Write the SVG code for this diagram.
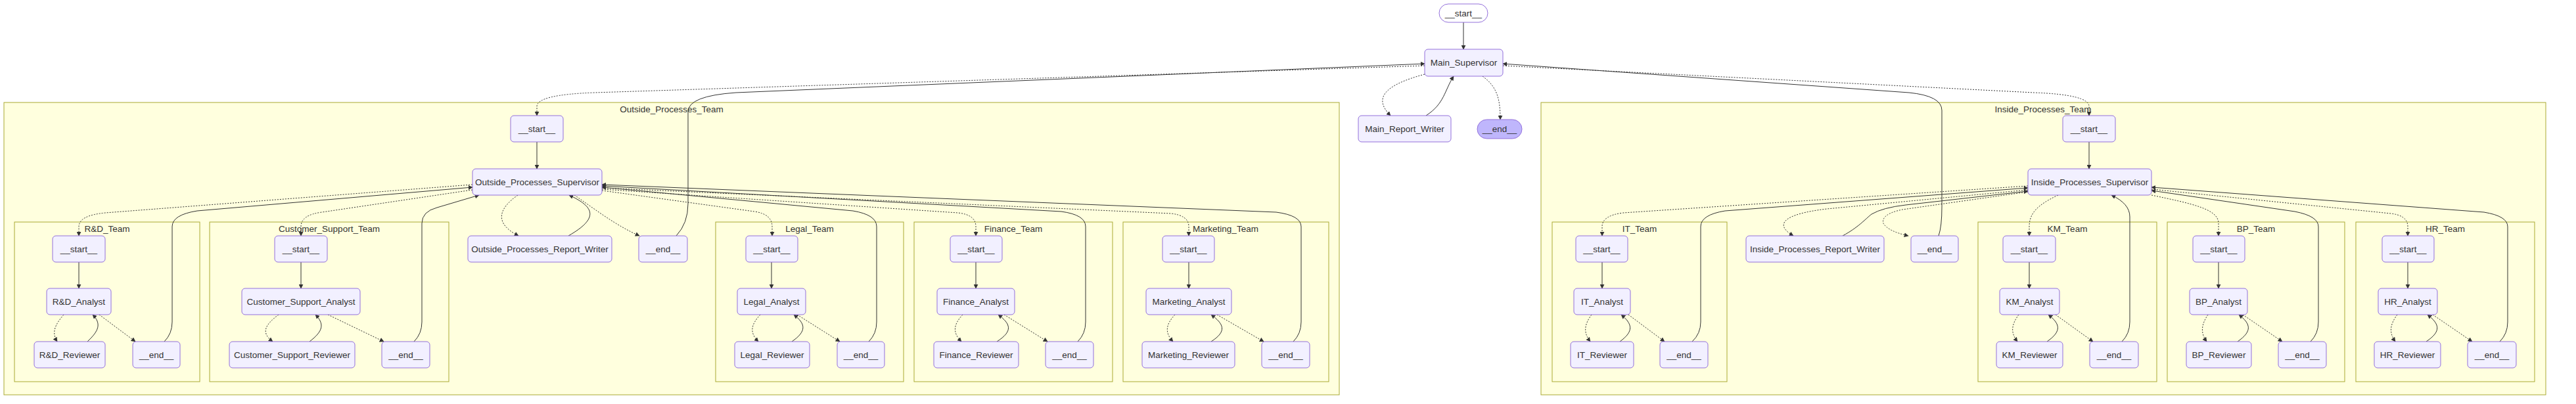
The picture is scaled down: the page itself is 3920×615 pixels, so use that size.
<svg xmlns="http://www.w3.org/2000/svg" width="3920" height="615" viewBox="0 0 3920 615">
<style>
.node rect{fill:#f2f0ff;stroke:#9370db;stroke-width:1}
.cluster rect{fill:#ffffde;stroke:#aaaa33;stroke-width:1}
text{font-family:"Liberation Sans",Arial,sans-serif;font-size:13.5px;fill:#333;text-anchor:middle}
.e{fill:none;stroke:#333;stroke-width:1}
.d{stroke-dasharray:2 2}
</style>
<defs>
<marker id="ah" viewBox="0 0 10 10" refX="9" refY="5" markerWidth="7" markerHeight="7" markerUnits="userSpaceOnUse" orient="auto"><path d="M0,0 L10,5 L0,10 z" fill="#333"/></marker>
</defs>
<rect width="3920" height="615" fill="#fff"/>
<g id="clusters">
<g id="Outside_Processes_Team" class="cluster"><rect x="6" y="156" width="2032" height="445"/><text x="1022" y="171">Outside_Processes_Team</text></g>
<g id="RD_Team" class="cluster"><rect x="22" y="338" width="282" height="243"/><text x="163" y="353">R&amp;D_Team</text></g>
<g id="Customer_Support_Team" class="cluster"><rect x="319" y="338" width="364" height="243"/><text x="501" y="353">Customer_Support_Team</text></g>
<g id="Legal_Team" class="cluster"><rect x="1089" y="338" width="286" height="243"/><text x="1232" y="353">Legal_Team</text></g>
<g id="Finance_Team" class="cluster"><rect x="1391" y="338" width="302" height="243"/><text x="1542" y="353">Finance_Team</text></g>
<g id="Marketing_Team" class="cluster"><rect x="1709" y="338" width="313" height="243"/><text x="1865" y="353">Marketing_Team</text></g>
<g id="Inside_Processes_Team" class="cluster"><rect x="2345" y="156" width="1529" height="445"/><text x="3109" y="171">Inside_Processes_Team</text></g>
<g id="IT_Team" class="cluster"><rect x="2362" y="338" width="266" height="243"/><text x="2495" y="353">IT_Team</text></g>
<g id="KM_Team" class="cluster"><rect x="3010" y="338" width="272" height="243"/><text x="3146" y="353">KM_Team</text></g>
<g id="BP_Team" class="cluster"><rect x="3298" y="338" width="270" height="243"/><text x="3433" y="353">BP_Team</text></g>
<g id="HR_Team" class="cluster"><rect x="3585" y="338" width="272" height="243"/><text x="3721" y="353">HR_Team</text></g>
</g>
<g id="connectors">
<path class="e" d="M2227,34 L2227,75" marker-end="url(#ah)"/>
<path class="e d" d="M2168,113 C2105,130 2090,150 2116,176" marker-end="url(#ah)"/>
<path class="e" d="M2170,176 C2198,158 2198,138 2212,116" marker-end="url(#ah)"/>
<path class="e d" d="M2256,116 C2278,132 2283,150 2283,182" marker-end="url(#ah)"/>
<path class="e d" d="M2168,100 L905,141 Q817,144 817,162 L817,176" marker-end="url(#ah)"/>
<path class="e" d="M1029,359 Q1047,340 1047,310 L1047,170 Q1047,146 1120,141 L2168,97" marker-end="url(#ah)"/>
<path class="e d" d="M2287,100 L3095,141 Q3179,144 3179,162 L3179,176" marker-end="url(#ah)"/>
<path class="e" d="M2950,359 Q2955,345 2955,315 L2955,168 Q2955,146 2905,141 L2287,97" marker-end="url(#ah)"/>
<path class="e" d="M817,216 L817,257" marker-end="url(#ah)"/>
<path class="e d" d="M719,281 L160,324 Q120,328 120,345 L120,359" marker-end="url(#ah)"/>
<path class="e" d="M250,520 Q262,508 262,490 L262,345 Q262,327 300,321 L719,285" marker-end="url(#ah)"/>
<path class="e d" d="M719,289 L490,323 Q458,327 458,345 L458,359" marker-end="url(#ah)"/>
<path class="e" d="M630,520 Q642,508 642,490 L642,340 Q642,322 665,316 L729,297" marker-end="url(#ah)"/>
<path class="e d" d="M788,297 C758,318 752,340 789,359" marker-end="url(#ah)"/>
<path class="e" d="M865,359 C912,332 905,315 866,297" marker-end="url(#ah)"/>
<path class="e d" d="M874,297 C905,318 935,342 973,359" marker-end="url(#ah)"/>
<path class="e d" d="M916,290 L1148,322 Q1175,326 1175,345 L1175,359" marker-end="url(#ah)"/>
<path class="e" d="M1322,520 Q1334,508 1334,490 L1334,345 Q1334,327 1298,321 L916,285" marker-end="url(#ah)"/>
<path class="e d" d="M916,288 L1458,324 Q1485,327 1485,345 L1485,359" marker-end="url(#ah)"/>
<path class="e" d="M1640,520 Q1652,508 1652,490 L1652,345 Q1652,327 1615,322 L916,283" marker-end="url(#ah)"/>
<path class="e d" d="M916,286 L1782,325 Q1809,328 1809,345 L1809,359" marker-end="url(#ah)"/>
<path class="e" d="M1968,520 Q1980,508 1980,490 L1980,345 Q1980,328 1942,323 L916,281" marker-end="url(#ah)"/>
<path class="e" d="M120,399 L120,439" marker-end="url(#ah)"/>
<path class="e d" d="M97,479 C84,494 78,506 87,520" marker-end="url(#ah)"/>
<path class="e" d="M133,520 C150,504 155,493 141,479" marker-end="url(#ah)"/>
<path class="e d" d="M151,479 L206,520" marker-end="url(#ah)"/>
<path class="e" d="M458,399 L458,439" marker-end="url(#ah)"/>
<path class="e d" d="M424,479 C404,494 396,506 415,520" marker-end="url(#ah)"/>
<path class="e" d="M471,520 C492,504 494,493 480,479" marker-end="url(#ah)"/>
<path class="e d" d="M499,479 L584,520" marker-end="url(#ah)"/>
<path class="e" d="M1174,399 L1174,439" marker-end="url(#ah)"/>
<path class="e d" d="M1157,479 C1143,494 1140,506 1154,520" marker-end="url(#ah)"/>
<path class="e" d="M1205,520 C1228,504 1226,493 1208,479" marker-end="url(#ah)"/>
<path class="e d" d="M1213,479 L1278,520" marker-end="url(#ah)"/>
<path class="e" d="M1485,399 L1485,439" marker-end="url(#ah)"/>
<path class="e d" d="M1465,479 C1451,494 1449,506 1463,520" marker-end="url(#ah)"/>
<path class="e" d="M1517,520 C1542,504 1538,493 1519,479" marker-end="url(#ah)"/>
<path class="e d" d="M1528,479 L1594,520" marker-end="url(#ah)"/>
<path class="e" d="M1809,399 L1809,439" marker-end="url(#ah)"/>
<path class="e d" d="M1788,479 C1774,494 1772,506 1785,520" marker-end="url(#ah)"/>
<path class="e" d="M1843,520 C1868,504 1862,493 1843,479" marker-end="url(#ah)"/>
<path class="e d" d="M1852,479 L1923,520" marker-end="url(#ah)"/>
<path class="e" d="M3179,216 L3179,257" marker-end="url(#ah)"/>
<path class="e d" d="M3086,283 L2470,324 Q2438,328 2438,345 L2438,359" marker-end="url(#ah)"/>
<path class="e" d="M2575,520 Q2588,508 2588,490 L2588,345 Q2588,327 2625,321 L3086,286" marker-end="url(#ah)"/>
<path class="e d" d="M3086,289 L2780,318 C2712,326 2700,342 2729,359" marker-end="url(#ah)"/>
<path class="e" d="M2804,359 C2828,346 2838,334 2848,326 Q2865,316 2900,312 L3086,291" marker-end="url(#ah)"/>
<path class="e d" d="M3086,292 L2895,319 Q2862,326 2866,340 Q2873,352 2904,359" marker-end="url(#ah)"/>
<path class="e d" d="M3132,297 C3100,312 3088,325 3088,345 L3088,359" marker-end="url(#ah)"/>
<path class="e" d="M3229,520 Q3241,508 3241,490 L3241,330 Q3241,310 3213,297" marker-end="url(#ah)"/>
<path class="e d" d="M3274,297 C3335,310 3376,318 3376,340 L3376,359" marker-end="url(#ah)"/>
<path class="e" d="M3516,520 Q3528,508 3528,490 L3528,345 Q3528,329 3492,322 L3274,290" marker-end="url(#ah)"/>
<path class="e d" d="M3274,288 L3638,325 Q3664,328 3664,345 L3664,359" marker-end="url(#ah)"/>
<path class="e" d="M3804,520 Q3816,508 3816,490 L3816,345 Q3816,329 3780,323 L3274,285" marker-end="url(#ah)"/>
<path class="e" d="M2438,399 L2438,439" marker-end="url(#ah)"/>
<path class="e d" d="M2422,479 C2411,494 2409,506 2420,520" marker-end="url(#ah)"/>
<path class="e" d="M2465,520 C2487,504 2484,493 2467,479" marker-end="url(#ah)"/>
<path class="e d" d="M2478,479 L2533,520" marker-end="url(#ah)"/>
<path class="e" d="M3088,399 L3088,439" marker-end="url(#ah)"/>
<path class="e d" d="M3072,479 C3061,494 3059,506 3070,520" marker-end="url(#ah)"/>
<path class="e" d="M3115,520 C3138,504 3135,493 3117,479" marker-end="url(#ah)"/>
<path class="e d" d="M3128,479 L3185,520" marker-end="url(#ah)"/>
<path class="e" d="M3376,399 L3376,439" marker-end="url(#ah)"/>
<path class="e d" d="M3360,479 C3350,494 3348,506 3358,520" marker-end="url(#ah)"/>
<path class="e" d="M3405,520 C3428,504 3425,493 3407,479" marker-end="url(#ah)"/>
<path class="e d" d="M3413,479 L3473,520" marker-end="url(#ah)"/>
<path class="e" d="M3664,399 L3664,439" marker-end="url(#ah)"/>
<path class="e d" d="M3648,479 C3637,494 3635,506 3645,520" marker-end="url(#ah)"/>
<path class="e" d="M3692,520 C3716,504 3712,493 3694,479" marker-end="url(#ah)"/>
<path class="e d" d="M3702,479 L3762,520" marker-end="url(#ah)"/>
</g>
<g id="main_start" class="node"><rect x="2190" y="6" width="74" height="28" rx="14" style="fill:#fff"/><text x="2227" y="24.5">__start__</text></g>
<g id="main_supervisor" class="node"><rect x="2168" y="75" width="119" height="41" rx="5"/><text x="2227.5" y="100">Main_Supervisor</text></g>
<g id="main_report_writer" class="node"><rect x="2067" y="176" width="141" height="40" rx="5"/><text x="2137.5" y="200.5">Main_Report_Writer</text></g>
<g id="main_end" class="node"><rect x="2248" y="182" width="68" height="29" rx="14.5" style="fill:#bfb6fc"/><text x="2282" y="201">__end__</text></g>
<g id="op_start" class="node"><rect x="777" y="176" width="80" height="40" rx="5"/><text x="817" y="200.5">__start__</text></g>
<g id="op_supervisor" class="node"><rect x="719" y="257" width="197" height="40" rx="5"/><text x="817.5" y="281.5">Outside_Processes_Supervisor</text></g>
<g id="op_report_writer" class="node"><rect x="712" y="359" width="219" height="40" rx="5"/><text x="821.5" y="383.5">Outside_Processes_Report_Writer</text></g>
<g id="op_end" class="node"><rect x="972" y="359" width="74" height="40" rx="5"/><text x="1009" y="383.5">__end__</text></g>
<g id="rd_start" class="node"><rect x="80" y="359" width="80" height="40" rx="5"/><text x="120" y="383.5">__start__</text></g>
<g id="rd_analyst" class="node"><rect x="71" y="439" width="98" height="40" rx="5"/><text x="120" y="463.5">R&amp;D_Analyst</text></g>
<g id="rd_reviewer" class="node"><rect x="52" y="520" width="108" height="40" rx="5"/><text x="106" y="544.5">R&amp;D_Reviewer</text></g>
<g id="rd_end" class="node"><rect x="202" y="520" width="72" height="40" rx="5"/><text x="238" y="544.5">__end__</text></g>
<g id="cs_start" class="node"><rect x="418" y="359" width="80" height="40" rx="5"/><text x="458" y="383.5">__start__</text></g>
<g id="cs_analyst" class="node"><rect x="368" y="439" width="180" height="40" rx="5"/><text x="458" y="463.5">Customer_Support_Analyst</text></g>
<g id="cs_reviewer" class="node"><rect x="349" y="520" width="191" height="40" rx="5"/><text x="444.5" y="544.5">Customer_Support_Reviewer</text></g>
<g id="cs_end" class="node"><rect x="581" y="520" width="73" height="40" rx="5"/><text x="617.5" y="544.5">__end__</text></g>
<g id="legal_start" class="node"><rect x="1135" y="359" width="79" height="40" rx="5"/><text x="1174.5" y="383.5">__start__</text></g>
<g id="legal_analyst" class="node"><rect x="1122" y="439" width="104" height="40" rx="5"/><text x="1174" y="463.5">Legal_Analyst</text></g>
<g id="legal_reviewer" class="node"><rect x="1118" y="520" width="114" height="40" rx="5"/><text x="1175" y="544.5">Legal_Reviewer</text></g>
<g id="legal_end" class="node"><rect x="1274" y="520" width="72" height="40" rx="5"/><text x="1310" y="544.5">__end__</text></g>
<g id="finance_start" class="node"><rect x="1446" y="359" width="79" height="40" rx="5"/><text x="1485.5" y="383.5">__start__</text></g>
<g id="finance_analyst" class="node"><rect x="1426" y="439" width="118" height="40" rx="5"/><text x="1485" y="463.5">Finance_Analyst</text></g>
<g id="finance_reviewer" class="node"><rect x="1421" y="520" width="129" height="40" rx="5"/><text x="1485.5" y="544.5">Finance_Reviewer</text></g>
<g id="finance_end" class="node"><rect x="1591" y="520" width="73" height="40" rx="5"/><text x="1627.5" y="544.5">__end__</text></g>
<g id="marketing_start" class="node"><rect x="1769" y="359" width="79" height="40" rx="5"/><text x="1808.5" y="383.5">__start__</text></g>
<g id="marketing_analyst" class="node"><rect x="1744" y="439" width="130" height="40" rx="5"/><text x="1809" y="463.5">Marketing_Analyst</text></g>
<g id="marketing_reviewer" class="node"><rect x="1738" y="520" width="141" height="40" rx="5"/><text x="1808.5" y="544.5">Marketing_Reviewer</text></g>
<g id="marketing_end" class="node"><rect x="1920" y="520" width="73" height="40" rx="5"/><text x="1956.5" y="544.5">__end__</text></g>
<g id="ip_start" class="node"><rect x="3139" y="176" width="80" height="40" rx="5"/><text x="3179" y="200.5">__start__</text></g>
<g id="ip_supervisor" class="node"><rect x="3086" y="257" width="188" height="40" rx="5"/><text x="3180" y="281.5">Inside_Processes_Supervisor</text></g>
<g id="ip_report_writer" class="node"><rect x="2657" y="359" width="210" height="40" rx="5"/><text x="2762" y="383.5">Inside_Processes_Report_Writer</text></g>
<g id="ip_end" class="node"><rect x="2908" y="359" width="72" height="40" rx="5"/><text x="2944" y="383.5">__end__</text></g>
<g id="it_start" class="node"><rect x="2398" y="359" width="79" height="40" rx="5"/><text x="2437.5" y="383.5">__start__</text></g>
<g id="it_analyst" class="node"><rect x="2395" y="439" width="86" height="40" rx="5"/><text x="2438" y="463.5">IT_Analyst</text></g>
<g id="it_reviewer" class="node"><rect x="2390" y="520" width="96" height="40" rx="5"/><text x="2438" y="544.5">IT_Reviewer</text></g>
<g id="it_end" class="node"><rect x="2526" y="520" width="73" height="40" rx="5"/><text x="2562.5" y="544.5">__end__</text></g>
<g id="km_start" class="node"><rect x="3048" y="359" width="80" height="40" rx="5"/><text x="3088" y="383.5">__start__</text></g>
<g id="km_analyst" class="node"><rect x="3043" y="439" width="91" height="40" rx="5"/><text x="3088.5" y="463.5">KM_Analyst</text></g>
<g id="km_reviewer" class="node"><rect x="3038" y="520" width="101" height="40" rx="5"/><text x="3088.5" y="544.5">KM_Reviewer</text></g>
<g id="km_end" class="node"><rect x="3180" y="520" width="74" height="40" rx="5"/><text x="3217" y="544.5">__end__</text></g>
<g id="bp_start" class="node"><rect x="3337" y="359" width="79" height="40" rx="5"/><text x="3376.5" y="383.5">__start__</text></g>
<g id="bp_analyst" class="node"><rect x="3332" y="439" width="88" height="40" rx="5"/><text x="3376" y="463.5">BP_Analyst</text></g>
<g id="bp_reviewer" class="node"><rect x="3327" y="520" width="99" height="40" rx="5"/><text x="3376.5" y="544.5">BP_Reviewer</text></g>
<g id="bp_end" class="node"><rect x="3467" y="520" width="73" height="40" rx="5"/><text x="3503.5" y="544.5">__end__</text></g>
<g id="hr_start" class="node"><rect x="3625" y="359" width="79" height="40" rx="5"/><text x="3664.5" y="383.5">__start__</text></g>
<g id="hr_analyst" class="node"><rect x="3619" y="439" width="90" height="40" rx="5"/><text x="3664" y="463.5">HR_Analyst</text></g>
<g id="hr_reviewer" class="node"><rect x="3613" y="520" width="101" height="40" rx="5"/><text x="3663.5" y="544.5">HR_Reviewer</text></g>
<g id="hr_end" class="node"><rect x="3755" y="520" width="74" height="40" rx="5"/><text x="3792" y="544.5">__end__</text></g>
</svg>
